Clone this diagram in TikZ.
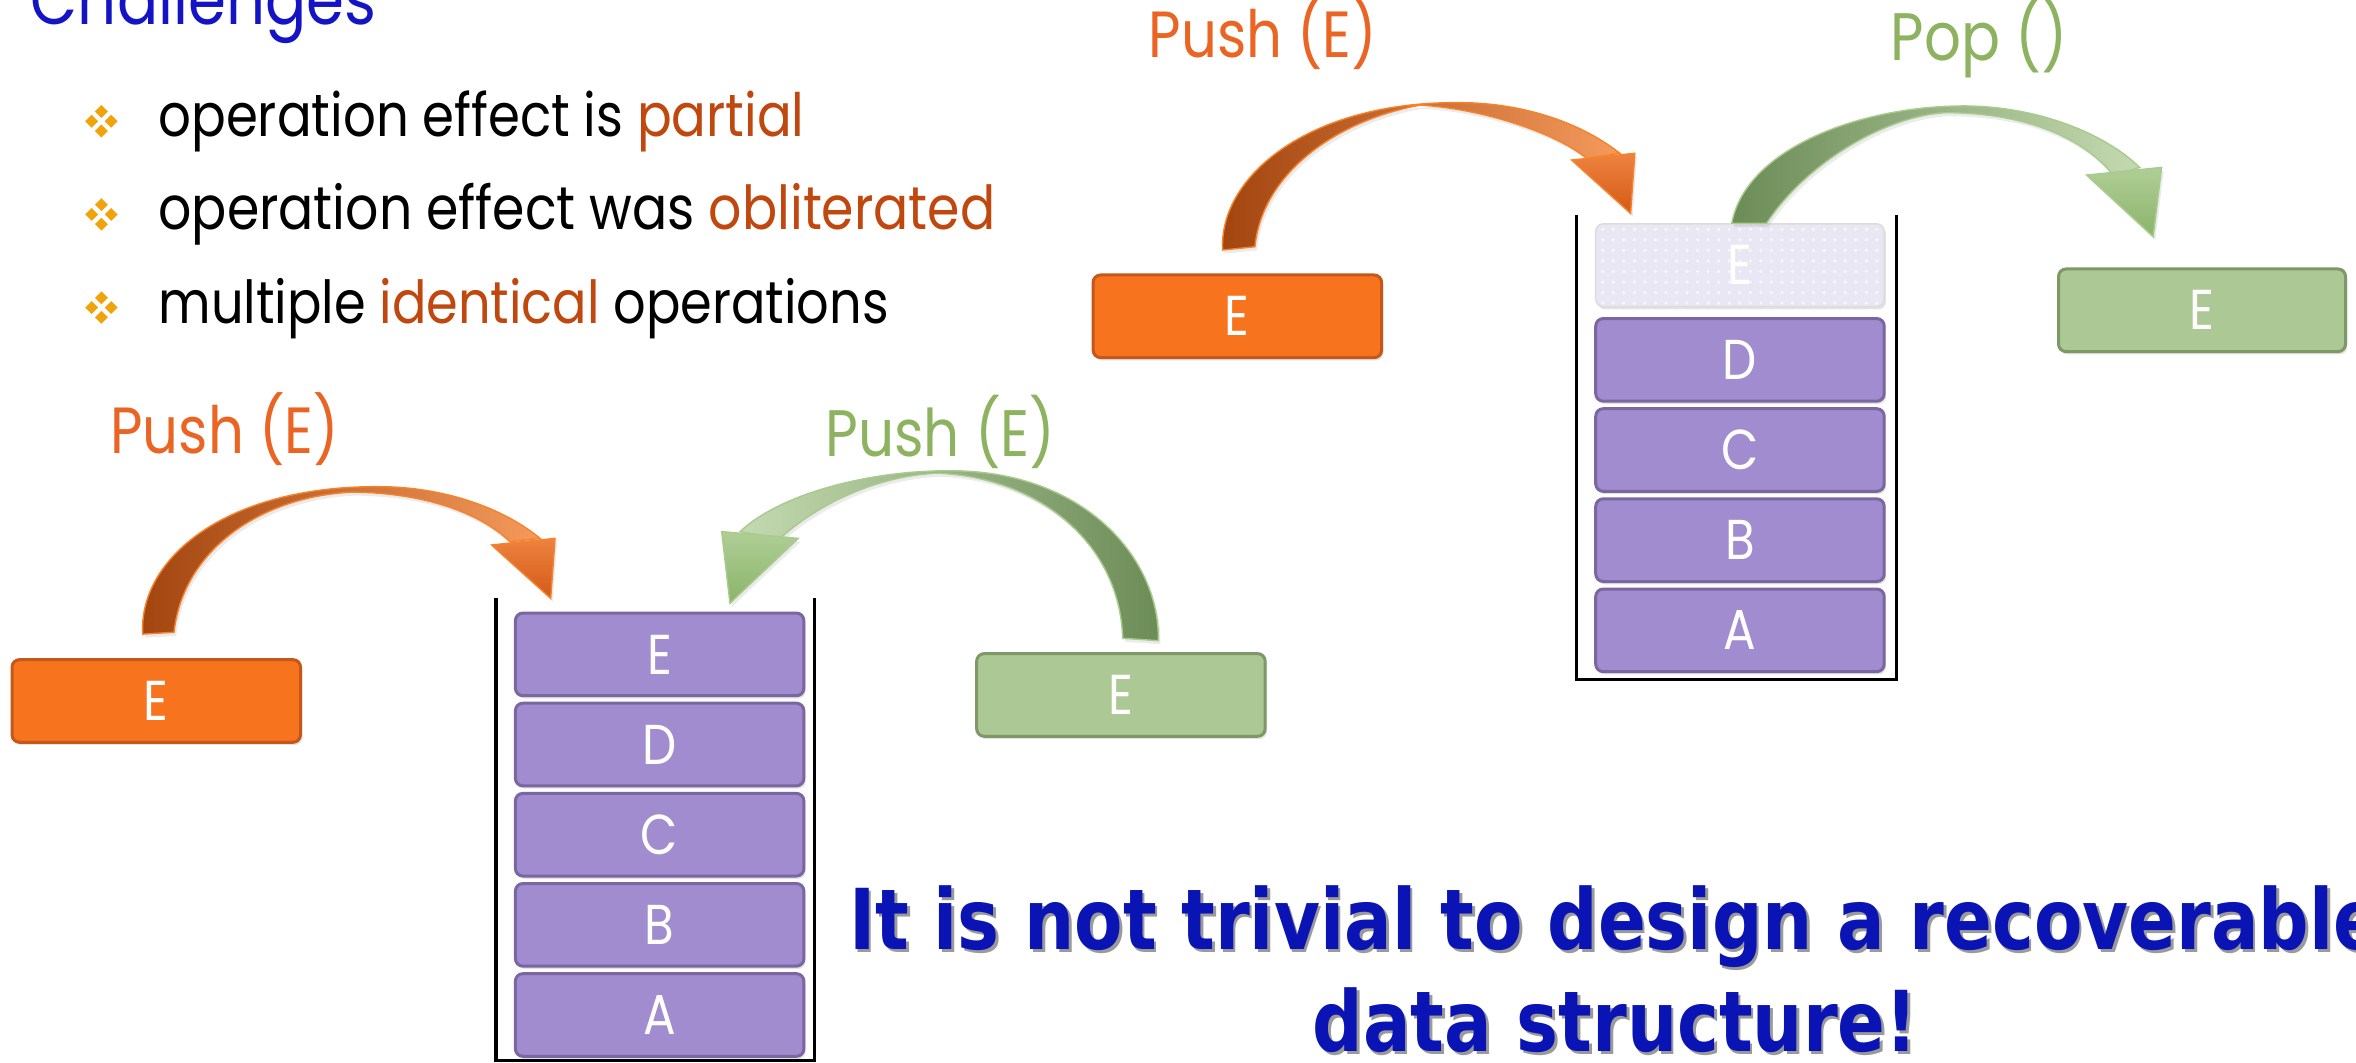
\documentclass[tikz,border=0pt]{standalone}
\usepackage{fontspec}
\usepackage{graphicx}
\setmainfont[FakeStretch=0.86]{Poppins}
\newfontfamily\slogan[FakeStretch=0.84]{DejaVu Sans}
\usetikzlibrary{shadows,patterns}

% one drawing unit
\newdimen\pxu
\pxu=0.15026mm
% set a text so that it is exactly #1 units wide
\newcommand\fitw[2]{\resizebox{#1\pxu}{!}{#2}}

\definecolor{titleblue}{HTML}{1414C4}
\definecolor{bulletgold}{HTML}{F0A30A}
\definecolor{hirust}{HTML}{C0480F}
\definecolor{lblorange}{HTML}{EA6524}
\definecolor{lblgreen}{HTML}{8DB260}
\definecolor{boxorange}{HTML}{F8731D}
\definecolor{boxorangeln}{HTML}{C4571A}
\definecolor{boxgreen}{HTML}{ACC894}
\definecolor{boxgreenln}{HTML}{7E9868}
\definecolor{itemfill}{HTML}{A08CCE}
\definecolor{itemline}{HTML}{7A67A2}
\definecolor{ghostfill}{HTML}{EAE7F4}
\definecolor{ghostdots}{HTML}{F7F6FB}
\definecolor{ghostline}{HTML}{DCDCDC}
\definecolor{sloganblue}{HTML}{0A14B4}
\definecolor{shadowgray}{HTML}{9A9A9A}
% arrow tones
\definecolor{oDark}{HTML}{A2440E}
\definecolor{oLight}{HTML}{F49A5C}
\definecolor{oHeadTop}{HTML}{EE8240}
\definecolor{oHeadBot}{HTML}{D45A16}
\definecolor{oEdge}{HTML}{F7822A}
\definecolor{gDark}{HTML}{6C8C57}
\definecolor{gLight}{HTML}{C4D9B0}
\definecolor{gHeadTop}{HTML}{B0CE96}
\definecolor{gHeadBot}{HTML}{8AB46A}
\definecolor{gEdge}{HTML}{A8CB8E}

\tikzset{
  cell/.style={rounded corners=5\pxu, line width=2\pxu, minimum width=192\pxu,
    minimum height=55\pxu, inner sep=0pt, text=white,
    font=\fontsize{16}{18}\selectfont,
    drop shadow={opacity=0.22, shadow xshift=0.5pt, shadow yshift=-0.8pt}},
  obox/.style={cell, fill=boxorange, draw=boxorangeln},
  gbox/.style={cell, fill=boxgreen, draw=boxgreenln},
  stackitem/.style={cell, fill=itemfill, draw=itemline},
  ghost/.style={cell, fill=ghostfill, draw=ghostline, line width=1\pxu,
    postaction={pattern=dots, pattern color=ghostdots}},
  wall/.style={line width=2.2\pxu, draw=black},
  lbl/.style={anchor=base west, inner sep=0pt, font=\fontsize{17}{20}\selectfont},
  bullettext/.style={anchor=base west, inner sep=0pt, font=\fontsize{15.5}{18}\selectfont},
  slogantext/.style={anchor=base, inner sep=0pt,
    font=\slogan\bfseries\fontsize{23.9}{29}\selectfont},
  ribbon/.style={line width=0.4pt,
    drop shadow={opacity=0.16, shadow xshift=0.6pt, shadow yshift=-1pt}},
  pics/quadbullet/.style={code={
    \foreach \dx/\dy in {0/-6.5, -6.5/0, 6.5/0, 0/6.5}
      \fill[bulletgold] (\dx,\dy-4.3) -- (\dx+4.3,\dy) -- (\dx,\dy+4.3)
        -- (\dx-4.3,\dy) -- cycle;
  }}
}

\begin{document}
\begin{tikzpicture}[x=0.15026mm, y=-0.15026mm]
\useasboundingbox (0,0) rectangle (1568,707);
\clip (0,0) rectangle (1568,707);

% ---------- heading and list ----------
\node[lbl, text=titleblue] (title) at (20,16.6) {\fitw{230}{Challenges}};

\pic (m1) at (67.5,80.7) {quadbullet};
\pic (m2) at (67.5,142.7) {quadbullet};
\pic (m3) at (67.5,204.7) {quadbullet};
\node[bullettext] (l1) at (105,91)
  {\fitw{430}{operation effect is \textcolor{hirust}{partial}}};
\node[bullettext] (l2) at (105,153)
  {\fitw{557}{operation effect was \textcolor{hirust}{obliterated}}};
\node[bullettext] (l3) at (105,215)
  {\fitw{486}{multiple \textcolor{hirust}{identical} operations}};

% ---------- upper scene: push then pop ----------
\node[lbl, text=lblorange] (pushU) at (764,38) {\fitw{152}{Push (E)}};
\node[lbl, text=lblgreen] (popU) at (1258,40) {\fitw{118}{Pop ()}};

\node[obox] (inU) at (823.5,210.5) {E};
\node[gbox, minimum width=191\pxu] (outU) at (1465.5,206.5) {E};

\draw[wall] (1049,143) -- (1049,452) -- (1262,452) -- (1262,143);
\node[ghost] (uE) at (1158,176.5) {E};
\node[stackitem] (uD) at (1158,239.5) {D};
\node[stackitem] (uC) at (1158,299.5) {C};
\node[stackitem] (uB) at (1158,359.5) {B};
\node[stackitem] (uA) at (1158,419.5) {A};

% push ribbon
\path[ribbon, left color=oDark, right color=oLight, draw=oEdge]
  (813.7,166.4) .. controls (811,118) and (870,68) .. (969.5,68.3)
  .. controls (1010,68) and (1050,80) .. (1078,102)
  -- (1056,105.4) .. controls (1035,88) and (985,72) .. (945,70)
  .. controls (890,80) and (840,115) .. (835.2,164.2) -- cycle;
\path[ribbon, top color=oHeadTop, bottom color=oHeadBot, draw=oEdge]
  (1046,106.5) -- (1088,102) -- (1085.2,142) -- cycle;

% pop ribbon
\path[ribbon, left color=gDark, right color=gLight, draw=gEdge]
  (1152.5,148.6) .. controls (1162,98) and (1240,70) .. (1308.8,70.5)
  .. controls (1355,71) and (1400,88) .. (1424,111.4)
  -- (1406.4,116.5) .. controls (1385,90) and (1345,75) .. (1295,75)
  .. controls (1255,77) and (1202,108.6) .. (1175.7,148.6) -- cycle;
\path[ribbon, top color=gHeadTop, bottom color=gHeadBot, draw=gEdge]
  (1388.7,116.5) -- (1438.6,111.4) -- (1433,157.5) -- cycle;

% ---------- lower scene: the same push twice ----------
\node[lbl, text=lblorange] (pushL) at (73,302) {\fitw{152}{Push (E)}};
\node[lbl, text=lblgreen] (pushR) at (549,304) {\fitw{153}{Push (E)}};

\node[obox] (inL) at (104,466.5) {E};
\node[gbox] (inR) at (746,462.5) {E};

\draw[wall] (330,398) -- (330,706) -- (542,706) -- (542,398);
\node[stackitem] (lE) at (439,435.5) {E};
\node[stackitem] (lD) at (439,495.5) {D};
\node[stackitem] (lC) at (439,555.5) {C};
\node[stackitem] (lB) at (439,615.5) {B};
\node[stackitem] (lA) at (439,675.5) {A};

% first push ribbon
\path[ribbon, left color=oDark, right color=oLight, draw=oEdge]
  (95,422) .. controls (92,372) and (150,323) .. (252.9,323.9)
  .. controls (295,324) and (335,338) .. (359.4,358.3)
  -- (339.4,360.5) .. controls (318,340) and (280,328) .. (235,327.5)
  .. controls (175,330) and (122,365) .. (115.8,420.8) -- cycle;
\path[ribbon, top color=oHeadTop, bottom color=oHeadBot, draw=oEdge]
  (327.2,362.7) -- (369.4,358.3) -- (366.5,398.2) -- cycle;

% second push ribbon
\path[ribbon, left color=gLight, right color=gDark, draw=gEdge]
  (770.9,426.4) .. controls (772,370) and (720,313) .. (632.2,313.3)
  .. controls (580,313) and (520,328) .. (492.5,353.8)
  -- (519.1,358.3) .. controls (545,335) and (585,316) .. (625,315)
  .. controls (690,318) and (745,360) .. (747.2,424.8) -- cycle;
\path[ribbon, top color=gHeadTop, bottom color=gHeadBot, draw=gEdge]
  (480.3,353.8) -- (531.3,358.3) -- (485.8,401.5) -- cycle;

% ---------- closing remark ----------
\node[slogantext, text=shadowgray] (s1sh) at (1076.8,633.8)
  {It is not trivial to design a recoverable};
\node[slogantext, text=shadowgray] (s2sh) at (1076.8,701.8) {data structure!};
\node[slogantext, text=sloganblue] (s1) at (1075,632)
  {It is not trivial to design a recoverable};
\node[slogantext, text=sloganblue] (s2) at (1075,700) {data structure!};
\end{tikzpicture}
\end{document}
